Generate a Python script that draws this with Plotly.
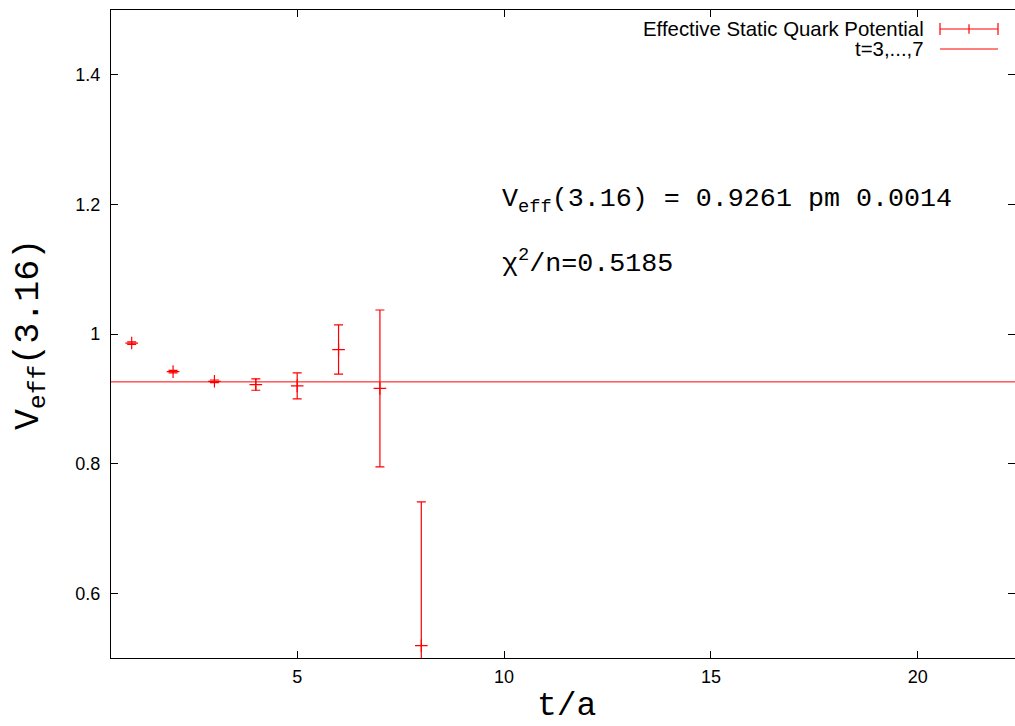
import plotly.graph_objects as go

# ---- data ----
t_values = [1, 2, 3, 4, 5, 6, 7, 8]
v_eff = [0.986, 0.942, 0.927, 0.922, 0.920, 0.976, 0.916, 0.519]
v_err = [0.002, 0.002, 0.002, 0.0088, 0.020, 0.038, 0.121, 0.222]

fit_value = 0.9261
x_range = [0.5, 22.35]
y_range = [0.5, 1.5]
x_ticks = [5, 10, 15, 20]
y_ticks = [0.6, 0.8, 1.0, 1.2, 1.4]
y_tick_text = ["0.6", "0.8", "1", "1.2", "1.4"]

legend_labels = ["Effective Static Quark Potential", "t=3,...,7"]
fit_label = "V<sub>eff</sub>(3.16) = 0.9261 pm 0.0014"
chi_label = "χ<sup>2</sup>/n=0.5185"

RED = "#ff0000"
MONO = "Liberation Mono"
SANS = "Liberation Sans"

W, H = 1015, 726
ml, mr, mt, mb = 111, 0, 10, 68
pw, ph = W - ml - mr, H - mt - mb


def px_to_paper_x(px):
    return (px - ml) / pw


def px_to_paper_y(py):
    return 1 - (py - mt) / ph


fig = go.Figure()

# fit line
fig.add_trace(go.Scatter(
    x=x_range, y=[fit_value, fit_value], mode="lines",
    line=dict(color=RED, width=1), showlegend=False, hoverinfo="skip"))

# data with error bars
fig.add_trace(go.Scatter(
    x=t_values, y=v_eff, mode="markers",
    marker=dict(symbol="cross-thin", size=9, line=dict(color=RED, width=1.2), color=RED),
    error_y=dict(type="data", array=v_err, visible=True, color=RED, thickness=1.2, width=4.5),
    showlegend=False, cliponaxis=True))

axis_common = dict(
    showline=True, linecolor="black", linewidth=1.3, mirror="ticks",
    ticks="inside", ticklen=7, tickcolor="black", tickwidth=1,
    showgrid=False, zeroline=False,
    tickfont=dict(family=SANS, size=18, color="black"),
)

fig.update_xaxes(range=x_range, tickvals=x_ticks, ticktext=[str(v) for v in x_ticks],
                 ticklabelstandoff=2, **axis_common)
fig.update_yaxes(range=y_range, tickvals=y_ticks, ticktext=y_tick_text, ticklabelstandoff=6,
                 **axis_common)

annotations = [
    # axis titles
    dict(text="t/a", xref="paper", yref="paper", x=px_to_paper_x(566), y=px_to_paper_y(706),
         xanchor="center", yanchor="middle", showarrow=False,
         font=dict(family=MONO, size=33, color="black")),
    dict(text="V<sub>eff</sub>(3.16)", xref="paper", yref="paper", x=px_to_paper_x(30),
         y=px_to_paper_y(335), xanchor="center", yanchor="middle", textangle=-90,
         showarrow=False, font=dict(family=MONO, size=35, color="black")),
    # fit info labels
    dict(text=fit_label, x=9.9, y=1.205, xref="x", yref="y", xanchor="left", yanchor="middle",
         showarrow=False, font=dict(family=MONO, size=26.7, color="black")),
    dict(text=chi_label, x=9.9, y=1.112, xref="x", yref="y", xanchor="left", yanchor="middle",
         showarrow=False, font=dict(family=MONO, size=26.7, color="black")),
]

# custom legend (text left, sample right, as in gnuplot)
legend_text_x = 926
legend_rows_y = [29, 49]
sample_x0, sample_x1 = 940, 998

shapes = []
for label, ry in zip(legend_labels, legend_rows_y):
    annotations.append(dict(text=label, xref="paper", yref="paper",
                            x=px_to_paper_x(legend_text_x), y=px_to_paper_y(ry),
                            xanchor="right", yanchor="middle", showarrow=False,
                            font=dict(family=SANS, size=20.4, color="black")))

# sample for error-bar series
y0 = px_to_paper_y(legend_rows_y[0])
y_cap = 6 / ph
xa, xb = px_to_paper_x(sample_x0), px_to_paper_x(sample_x1)
xm = (xa + xb) / 2
shapes += [
    dict(type="line", xref="paper", yref="paper", x0=xa, x1=xb, y0=y0, y1=y0,
         line=dict(color=RED, width=1.2)),
    dict(type="line", xref="paper", yref="paper", x0=xa, x1=xa, y0=y0 - y_cap, y1=y0 + y_cap,
         line=dict(color=RED, width=1.2)),
    dict(type="line", xref="paper", yref="paper", x0=xb, x1=xb, y0=y0 - y_cap, y1=y0 + y_cap,
         line=dict(color=RED, width=1.2)),
    dict(type="line", xref="paper", yref="paper", x0=xm, x1=xm, y0=y0 - y_cap * 0.8,
         y1=y0 + y_cap * 0.8, line=dict(color=RED, width=1.2)),
]
y1 = px_to_paper_y(legend_rows_y[1])
shapes.append(dict(type="line", xref="paper", yref="paper", x0=xa, x1=xb, y0=y1, y1=y1,
                   line=dict(color=RED, width=1.2)))

fig.update_layout(
    width=W, height=H,
    margin=dict(l=ml, r=mr, t=mt, b=mb, pad=0),
    paper_bgcolor="white", plot_bgcolor="white",
    showlegend=False,
    annotations=annotations,
    shapes=shapes,
)

fig.write_html("out.html")
